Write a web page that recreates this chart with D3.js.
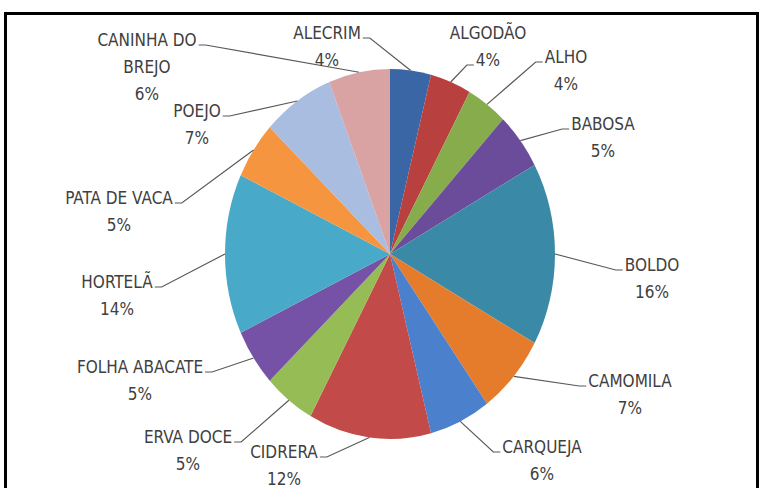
<!DOCTYPE html>
<html>
<head>
<meta charset="utf-8">
<script src="https://cdn.jsdelivr.net/npm/d3@7"></script>
<style>
  html, body { margin: 0; padding: 0; background: #fff; }
  svg { display: block; }
  .lbl { font-family: "Liberation Sans Narrow", "DejaVu Sans Condensed", "Noto Sans", sans-serif; fill: #404040; }
</style>
</head>
<body>
<svg id="chart" width="764" height="488"></svg>
<script>
// Plant names (slice order, clockwise from 12 o'clock)
const categories = [
  "ALECRIM", "ALGODÃO", "ALHO", "BABOSA", "BOLDO", "CAMOMILA", "CARQUEJA",
  "CIDRERA", "ERVA DOCE", "FOLHA ABACATE", "HORTELÃ", "PATA DE VACA", "POEJO",
  "CANINHA DO BREJO"
];
// Share of citations, in percent
const values = [4, 4, 4, 5, 16, 7, 6, 12, 5, 5, 14, 5, 7, 6];
// How each label is broken into lines
const labelLines = [
  ["ALECRIM"], ["ALGODÃO"], ["ALHO"], ["BABOSA"], ["BOLDO"], ["CAMOMILA"], ["CARQUEJA"],
  ["CIDRERA"], ["ERVA DOCE"], ["FOLHA ABACATE"], ["HORTELÃ"], ["PATA DE VACA"], ["POEJO"],
  ["CANINHA DO", "BREJO"]
];
// Slice fills
const colors = [
  "#3a66a6", "#b8413f", "#86ac4c", "#6b4c9a", "#3a8aa7", "#e57c2c", "#4b80cc",
  "#c24a48", "#95bc55", "#7652a6", "#49a9c8", "#f6953f", "#a8bde0", "#d9a3a4"
];

// Label placement: centre of first text line, which end of which line the leader joins
const labelLayout = [
  { x: 327, y: 33,  side: "R", row: 0 },
  { x: 488, y: 33,  side: "L", row: 1 },
  { x: 566, y: 57,  side: "L", row: 0 },
  { x: 603, y: 124, side: "L", row: 0 },
  { x: 652, y: 265, side: "L", row: 0 },
  { x: 630, y: 381, side: "L", row: 0 },
  { x: 542, y: 447, side: "L", row: 0 },
  { x: 284, y: 452, side: "R", row: 0 },
  { x: 188, y: 437, side: "R", row: 0 },
  { x: 140, y: 367, side: "R", row: 0 },
  { x: 117, y: 282, side: "R", row: 0 },
  { x: 119, y: 198, side: "R", row: 0 },
  { x: 197, y: 111, side: "R", row: 0 },
  { x: 147, y: 40,  side: "R", row: 0 }
];

const W = 764, H = 488;
const cx = 390, cy = 254, rx = 165, ry = 185;
const lineGap = 27;
const fontSize = 17;

const svg = d3.select("#chart");

// outer frame
svg.append("rect")
  .attr("x", 5.5).attr("y", 13.5)
  .attr("width", 752).attr("height", 500)
  .attr("fill", "#fff")
  .attr("stroke", "#000").attr("stroke-width", 3);

const data = categories.map((c, i) => ({ name: c, value: values[i], lines: labelLines[i], color: colors[i], layout: labelLayout[i] }));

const pie = d3.pie().sort(null).value(d => d.value);
const arcs = pie(data);
const arc = d3.arc().innerRadius(0).outerRadius(rx);

// the pie is drawn on a circle and stretched vertically into an ellipse
const gPie = svg.append("g")
  .attr("transform", `translate(${cx},${cy}) scale(1,${ry / rx})`);

gPie.selectAll("path")
  .data(arcs)
  .join("path")
  .attr("d", arc)
  .attr("fill", d => d.data.color);

// labels
const gLbl = svg.append("g");
const gLead = svg.insert("g", "g + g");

arcs.forEach(a => {
  const d = a.data, L = d.layout;
  const lines = d.lines.concat([d.value + "%"]);
  const texts = lines.map((t, k) =>
    gLbl.append("text")
      .attr("class", "lbl")
      .attr("x", L.x)
      .attr("y", L.y + k * lineGap)
      .attr("text-anchor", "middle")
      .attr("dominant-baseline", "central")
      .attr("font-size", fontSize)
      .text(t)
  );
  // leader line from the rim at the slice's mid-angle to the label
  const mid = (a.startAngle + a.endAngle) / 2;
  const px = cx + rx * Math.sin(mid);
  const py = cy - ry * Math.cos(mid);
  const tw = texts[L.row].node().getComputedTextLength();
  const ty = L.y + L.row * lineGap + 5;
  const tx = L.side === "L" ? L.x - tw / 2 - 2 : L.x + tw / 2 + 2;
  const ex = L.side === "L" ? tx - 7 : tx + 7;
  gLead.append("polyline")
    .attr("points", `${px},${py} ${ex},${ty} ${tx},${ty}`)
    .attr("fill", "none")
    .attr("stroke", "#595959")
    .attr("stroke-width", 1.2);
});
</script>
</body>
</html>
